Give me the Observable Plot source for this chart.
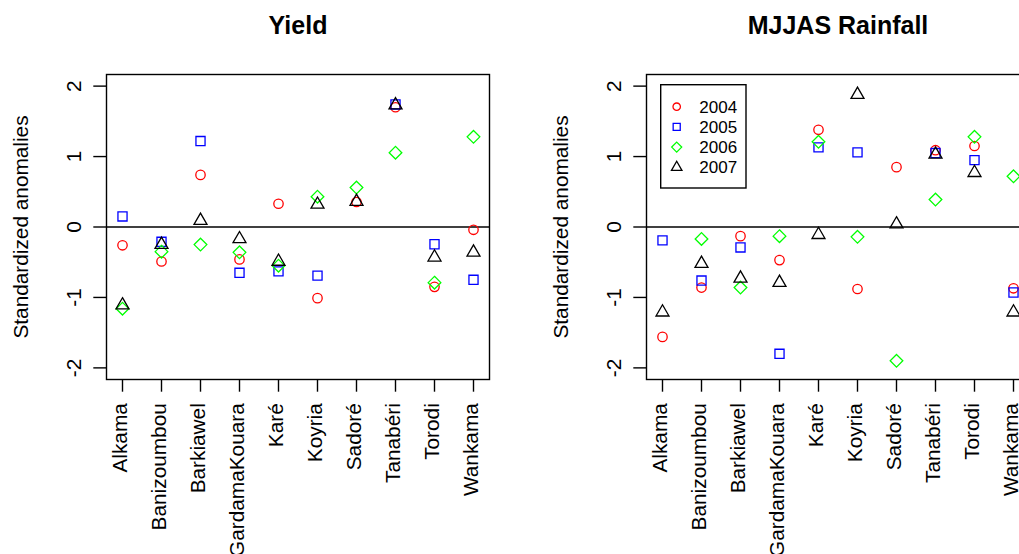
<!DOCTYPE html>
<html><head><meta charset="utf-8">
<script src="https://cdn.jsdelivr.net/npm/d3@7"></script>
<script src="https://cdn.jsdelivr.net/npm/@observablehq/plot@0.6"></script>
<style>
html,body{margin:0;padding:0;background:#fff;overflow:hidden;width:1019px;height:554px;}
#wrap{position:relative;width:1080px;height:554px;font-family:"Liberation Sans",Arial,Helvetica,sans-serif;}
.panel{position:absolute;top:0;}
.panel svg{overflow:visible;}
</style></head><body><div id="wrap"></div><script>
const sites = ["Alkama","Banizoumbou","Barkiawel","GardamaKouara","Karé","Koyria","Sadoré","Tanabéri","Torodi","Wankama"];
const years = ["2004","2005","2006","2007"];
const colors = ["#FF0000","#0000FF","#00FF00","#000000"];
const symbols = ["circle","square2","diamond2","triangle2"];
const yTicks = [-2,-1,0,1,2];
const titles = ["Yield","MJJAS Rainfall"];
const yLabel = "Standardized anomalies";

const yield2004 = [-0.26,-0.49,0.74,-0.46,0.33,-1.01,0.355,1.70,-0.85,-0.04];
const yield2005 = [0.15,-0.21,1.22,-0.65,-0.63,-0.69,null,1.74,-0.245,-0.75];
const yield2006 = [-1.16,-0.35,-0.25,-0.36,-0.55,0.43,0.56,1.055,-0.79,1.28];
const yield2007 = [-1.11,-0.25,0.09,-0.17,-0.49,0.32,0.36,1.73,-0.43,-0.36];

const rain2004 = [-1.56,-0.86,-0.13,-0.47,1.38,-0.88,0.85,1.09,1.15,-0.87];
const rain2005 = [-0.19,-0.76,-0.29,-1.80,1.13,1.06,null,1.05,0.95,-0.93];
const rain2006 = [null,-0.17,-0.86,-0.13,1.21,-0.14,-1.90,0.39,1.28,0.72];
const rain2007 = [-1.21,-0.52,-0.73,-0.79,-0.11,1.88,0.04,1.03,0.77,-1.21];

const symR = [4.7, 5.8, 5.7, 6.2];
const LW = 1.4;
const FONT = '"Liberation Sans",Arial,Helvetica,sans-serif';
const FS = 20.8;

function panel(title, series) {
  const data = [];
  years.forEach((yr, k) => series[k].forEach((v, i) => {
    if (v != null) data.push({site: sites[i], year: yr, v});
  }));
  return Plot.plot({
    width: 540, height: 554,
    marginLeft: 106, marginRight: 51, marginTop: 74, marginBottom: 175,
    style: {fontFamily: FONT, background: "white", color: "black"},
    x: {type: "point", domain: sites, padding: 0.36},
    y: {domain: [-2.165, 2.165]},
    marks: [
      Plot.ruleY([0], {stroke: "black", strokeWidth: LW}),
      ...years.map((yr, k) => Plot.dot(data.filter(d => d.year === yr), {
        x: "site", y: "v", symbol: symbols[k], r: symR[k],
        stroke: colors[k], strokeWidth: 1.3, fill: "none"
      })),
      Plot.frame({stroke: "black", strokeWidth: LW}),
      Plot.axisX({ticks: sites, tickSize: 12.7, tickFormat: () => "", label: null, strokeWidth: LW}),
      Plot.axisX({ticks: sites, tickSize: 0, tickPadding: 23.7, tickRotate: -90, dx: -2.5, fontSize: FS, label: null}),
      Plot.axisY({ticks: yTicks, tickFormat: d => String(d), tickSize: 12.7, tickPadding: 13, tickRotate: -90, fontSize: FS, strokeWidth: LW,
        label: yLabel, labelAnchor: "center", labelArrow: "none", labelOffset: 93}),
      Plot.text([title], {text: d => d, frameAnchor: "top", dy: -41, fontSize: 25, fontWeight: "bold", lineAnchor: "bottom"})
    ]
  });
}

const wrap = document.getElementById("wrap");
const p1 = panel(titles[0], [yield2004, yield2005, yield2006, yield2007]);
const p2 = panel(titles[1], [rain2004, rain2005, rain2006, rain2007]);
const d1 = document.createElement("div"); d1.className = "panel"; d1.style.left = "0px"; d1.appendChild(p1);
const d2 = document.createElement("div"); d2.className = "panel"; d2.style.left = "540px"; d2.appendChild(p2);
wrap.appendChild(d1); wrap.appendChild(d2);

// legend
const lg = d3.create("svg").attr("id", "legend").attr("width", 90).attr("height", 108)
  .style("position", "absolute").style("left", "660px").style("top", "84px");
lg.append("rect").attr("x", 0.7).attr("y", 0.7).attr("width", 85.3).attr("height", 103.3)
  .attr("fill", "white").attr("stroke", "black").attr("stroke-width", LW);
const legSym = [d3.symbolCircle, d3.symbolSquare2, d3.symbolDiamond2, d3.symbolTriangle2];
const legR = [3.7, 4.5, 4.5, 5.0];
years.forEach((yr, k) => {
  const cy = 22.7 + k * 20.2;
  lg.append("path").attr("d", d3.symbol(legSym[k], Math.PI * legR[k] * legR[k])())
    .attr("transform", `translate(16.7,${cy})`).attr("fill", "none")
    .attr("stroke", colors[k]).attr("stroke-width", 1.3);
  lg.append("text").attr("x", 39.3).attr("y", cy).attr("dy", "0.35em")
    .attr("font-size", 17).attr("font-family", FONT).text(yr);
});
wrap.appendChild(lg.node());
</script></body></html>
